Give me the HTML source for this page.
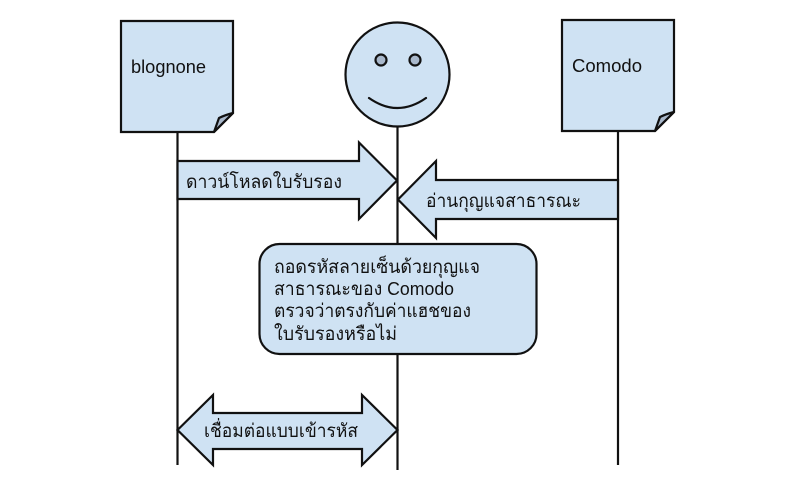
<!DOCTYPE html>
<html lang="th">
<head>
<meta charset="utf-8">
<style>
html,body{margin:0;padding:0;background:#fff;width:792px;height:493px;overflow:hidden}
svg{display:block}
text{font-family:"Liberation Sans","Noto Sans CJK SC","DejaVu Sans",sans-serif;font-size:18.500px;fill:#111}
.s{fill:#cfe2f3;stroke:#111;stroke-width:2.2;stroke-linejoin:miter}
.f{fill:#a9b8cb;stroke:#111;stroke-width:2.2;stroke-linejoin:round}
.l{fill:none;stroke:#111;stroke-width:2.2}
</style>
</head>
<body>
<svg width="792" height="493" viewBox="0 0 792 493" xmlns="http://www.w3.org/2000/svg">
<rect width="792" height="493" fill="#fff"/>
<!-- lifelines -->
<line class="l" x1="177.5" y1="132" x2="177.5" y2="465"/>
<line class="l" x1="397.5" y1="127" x2="397.5" y2="470"/>
<line class="l" x1="618" y1="132" x2="618" y2="465"/>
<!-- blognone doc -->
<path class="s" d="M121 21H233V113L214 132H121Z"/>
<path class="f" d="M214 132L219 118Q225 115 233 113Z"/>
<text x="131" y="73" textLength="75" lengthAdjust="spacingAndGlyphs">blognone</text>
<!-- comodo doc -->
<path class="s" d="M562 20H674V112L655 131H562Z"/>
<path class="f" d="M655 131L660 117Q666 114 674 112Z"/>
<text x="572" y="72" textLength="70" lengthAdjust="spacingAndGlyphs">Comodo</text>
<!-- face -->
<circle class="s" cx="397.500" cy="74.500" r="52"/>
<circle class="f" cx="381" cy="60" r="5.500"/>
<circle class="f" cx="415" cy="60" r="5.500"/>
<path class="l" d="M369 98Q397.500 118 426 98" stroke-linecap="round"/>
<!-- arrow 1 -->
<path class="s" d="M177.500 161H359V142.500L397 180.500L359 219V199H177.500Z"/>
<text x="186" y="188" textLength="156" lengthAdjust="spacingAndGlyphs">ดาวน์โหลดใบรับรอง</text>
<!-- arrow 2 -->
<path class="s" d="M618 180H436V161L398 199.500L436 238V219H618Z"/>
<text x="426" y="207" textLength="155" lengthAdjust="spacingAndGlyphs">อ่านกุญแจสาธารณะ</text>
<!-- box -->
<rect class="s" x="259.500" y="244" width="277" height="110" rx="20" ry="20"/>
<text x="274" y="273" textLength="206" lengthAdjust="spacingAndGlyphs">ถอดรหัสลายเซ็นด้วยกุญแจ</text>
<text x="274" y="295" textLength="180" lengthAdjust="spacingAndGlyphs">สาธารณะของ Comodo</text>
<text x="274" y="317" textLength="197" lengthAdjust="spacingAndGlyphs">ตรวจว่าตรงกับค่าแฮชของ</text>
<text x="274" y="340" textLength="123" lengthAdjust="spacingAndGlyphs">ใบรับรองหรือไม่</text>
<!-- arrow 3 -->
<path class="s" d="M177.500 430L213 395V413H362V395L397.500 430L362 465V449H213V465Z"/>
<text x="204" y="437" textLength="154" lengthAdjust="spacingAndGlyphs">เชื่อมต่อแบบเข้ารหัส</text>
</svg>
</body>
</html>
